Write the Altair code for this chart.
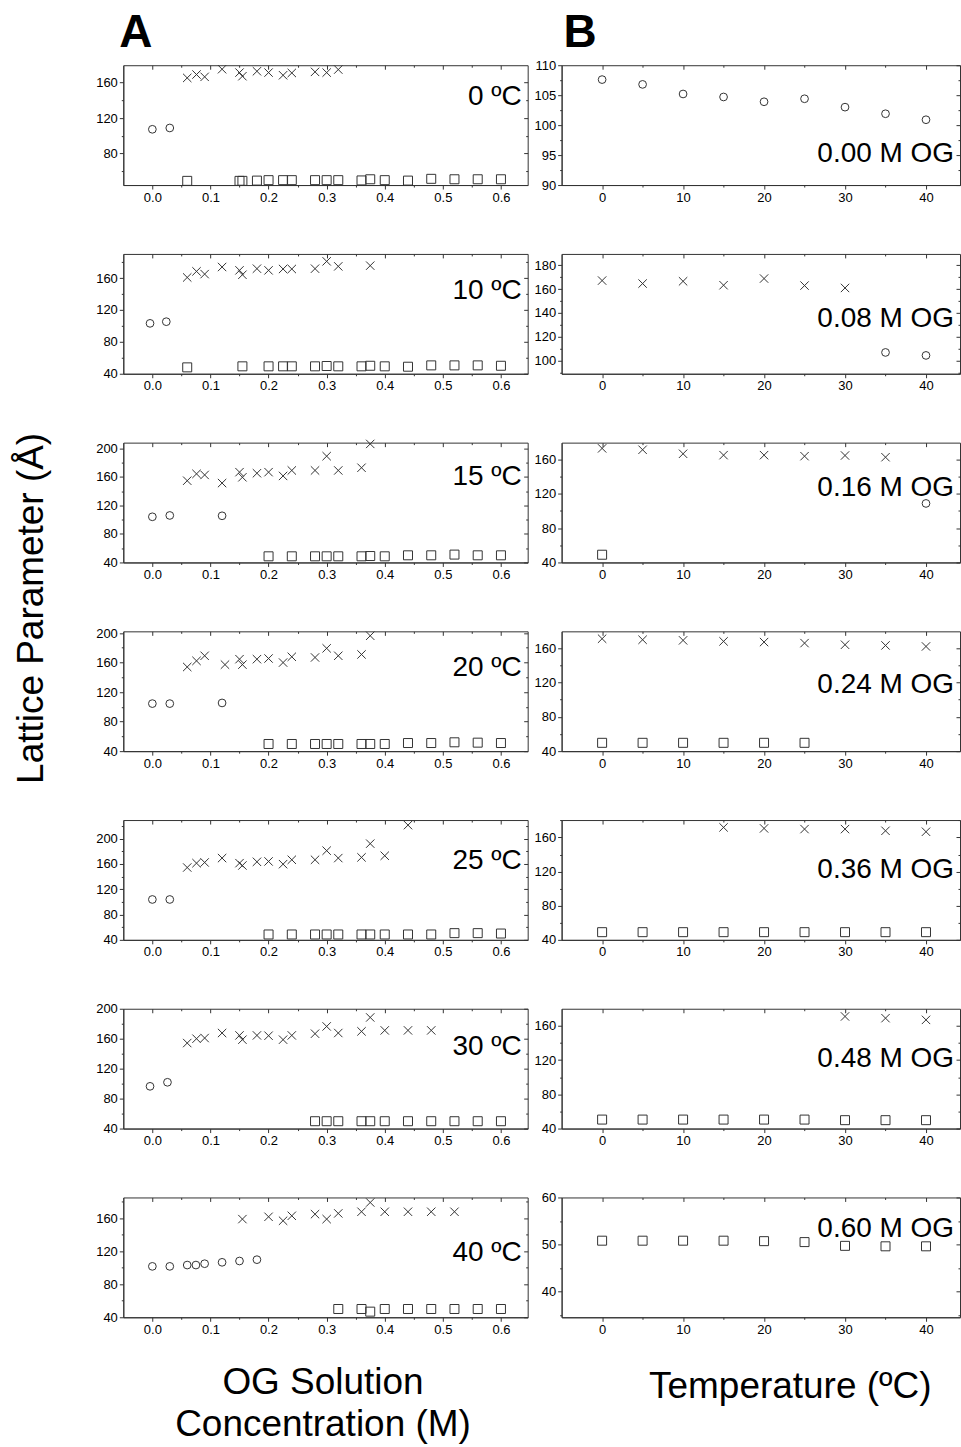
import altair as alt
import pandas as pd

FONT = "Liberation Sans"
INK = "#333333"
XPATH = "M-1,-1L1,1M-1,1L1,-1"
KINDS = ["circle", "cross", "square"]

# ---------------- Column A: lattice parameter vs OG concentration ----------------
A_LABELS = ["0 ºC", "10 ºC", "15 ºC", "20 ºC", "25 ºC", "30 ºC", "40 ºC"]
A_XTICKS = [0.0, 0.1, 0.2, 0.3, 0.4, 0.5, 0.6]
A_XDOM = [-0.05, 0.646]

# 0 ºC
A0_circ_x = [0.0, 0.03]
A0_circ_y = [107.3, 108.8]
A0_cross_x = [0.06, 0.076, 0.09, 0.12, 0.15, 0.155, 0.18, 0.20, 0.225, 0.24, 0.28, 0.30, 0.32]
A0_cross_y = [165.2, 169.0, 166.4, 175.0, 171.2, 167.1, 172.7, 171.2, 168.2, 170.8, 172.0, 171.2, 174.6]
A0_sq_x = [0.06, 0.15, 0.155, 0.18, 0.20, 0.225, 0.24, 0.28, 0.30, 0.32, 0.36, 0.375, 0.40, 0.44, 0.48, 0.52, 0.56, 0.60]
A0_sq_y = [49.2, 49.2, 49.2, 49.5, 50.0, 50.0, 50.0, 50.0, 50.0, 50.0, 49.7, 51.0, 50.0, 49.5, 51.5, 51.0, 51.0, 51.0]

# 10 ºC
A10_circ_x = [-0.004, 0.024]
A10_circ_y = [103.2, 105.3]
A10_cross_x = [0.06, 0.076, 0.09, 0.12, 0.15, 0.155, 0.18, 0.20, 0.225, 0.24, 0.28, 0.30, 0.32, 0.375]
A10_cross_y = [160.8, 168.4, 165.0, 173.9, 169.7, 164.2, 171.8, 169.7, 171.4, 171.4, 171.8, 181.0, 174.7, 175.6]
A10_sq_x = [0.06, 0.155, 0.20, 0.225, 0.24, 0.28, 0.30, 0.32, 0.36, 0.375, 0.40, 0.44, 0.48, 0.52, 0.56, 0.60]
A10_sq_y = [48.0, 49.3, 49.3, 49.3, 49.3, 49.3, 49.7, 49.3, 49.3, 50.0, 49.3, 48.8, 50.5, 50.5, 50.5, 50.0]

# 15 ºC
A15_circ_x = [0.0, 0.03, 0.12]
A15_circ_y = [104.0, 105.9, 105.4]
A15_cross_x = [0.06, 0.076, 0.09, 0.12, 0.15, 0.155, 0.18, 0.20, 0.225, 0.24, 0.28, 0.30, 0.32, 0.36, 0.375]
A15_cross_y = [154.6, 164.2, 162.7, 151.3, 166.6, 159.4, 165.1, 166.6, 161.3, 169.0, 169.0, 189.0, 169.0, 172.8, 206.2]
A15_sq_x = [0.20, 0.24, 0.28, 0.30, 0.32, 0.36, 0.375, 0.40, 0.44, 0.48, 0.52, 0.56, 0.60]
A15_sq_y = [48.6, 48.6, 48.6, 48.6, 48.6, 48.6, 49.0, 48.6, 50.0, 50.0, 51.0, 50.0, 50.0]

# 20 ºC
A20_circ_x = [0.0, 0.03, 0.12]
A20_circ_y = [104.4, 104.4, 105.3]
A20_cross_x = [0.06, 0.076, 0.09, 0.125, 0.15, 0.155, 0.18, 0.20, 0.225, 0.24, 0.28, 0.30, 0.32, 0.36, 0.375]
A20_cross_y = [154.0, 162.3, 169.2, 157.2, 164.6, 157.2, 164.6, 165.5, 160.0, 167.8, 166.9, 179.3, 169.2, 171.0, 196.3]
A20_sq_x = [0.20, 0.24, 0.28, 0.30, 0.32, 0.36, 0.375, 0.40, 0.44, 0.48, 0.52, 0.56, 0.60]
A20_sq_y = [49.7, 49.7, 49.7, 49.7, 49.7, 49.7, 49.7, 49.7, 51.0, 51.0, 52.0, 51.5, 51.0]

# 25 ºC
A25_circ_x = [0.0, 0.03]
A25_circ_y = [103.8, 103.8]
A25_cross_x = [0.06, 0.076, 0.09, 0.12, 0.15, 0.155, 0.18, 0.20, 0.225, 0.24, 0.28, 0.30, 0.32, 0.36, 0.375, 0.40, 0.44]
A25_cross_y = [154.3, 161.2, 162.3, 169.2, 161.2, 157.5, 163.3, 163.9, 159.6, 166.5, 166.5, 180.9, 169.2, 170.3, 192.0, 172.9, 221.3]
A25_sq_x = [0.20, 0.24, 0.28, 0.30, 0.32, 0.36, 0.375, 0.40, 0.44, 0.48, 0.52, 0.56, 0.60]
A25_sq_y = [48.5, 48.5, 48.5, 48.5, 48.5, 48.5, 48.5, 48.5, 48.5, 48.5, 50.6, 50.6, 50.0]

# 30 ºC
A30_circ_x = [-0.004, 0.026]
A30_circ_y = [96.4, 101.8]
A30_cross_x = [0.06, 0.076, 0.09, 0.12, 0.15, 0.155, 0.18, 0.20, 0.225, 0.24, 0.28, 0.30, 0.32, 0.36, 0.375, 0.40, 0.44, 0.48]
A30_cross_y = [154.2, 160.0, 160.9, 167.6, 164.4, 158.7, 164.4, 164.0, 158.7, 164.4, 166.7, 176.4, 167.6, 169.8, 188.4, 171.1, 171.1, 171.1]
A30_sq_x = [0.28, 0.30, 0.32, 0.36, 0.375, 0.40, 0.44, 0.48, 0.52, 0.56, 0.60]
A30_sq_y = [49.8, 49.8, 49.8, 49.8, 49.8, 49.8, 49.8, 49.8, 49.8, 49.8, 49.8]

# 40 ºC
A40_circ_x = [0.0, 0.03, 0.06, 0.075, 0.09, 0.12, 0.15, 0.18]
A40_circ_y = [101.6, 101.6, 103.2, 103.2, 104.8, 106.5, 108.1, 109.7]
A40_cross_x = [0.155, 0.20, 0.225, 0.24, 0.28, 0.30, 0.32, 0.36, 0.375, 0.40, 0.44, 0.48, 0.52]
A40_cross_y = [158.8, 161.6, 156.8, 162.8, 164.8, 158.8, 165.7, 167.7, 178.9, 167.7, 167.7, 167.7, 167.7]
A40_sq_x = [0.32, 0.36, 0.375, 0.40, 0.44, 0.48, 0.52, 0.56, 0.60]
A40_sq_y = [50.0, 50.0, 46.8, 50.0, 50.0, 50.0, 50.0, 50.0, 50.0]

A_YDOMS = [[44.5, 179.5], [40, 190.3], [40, 208], [40, 202.3], [40, 229.3], [40, 200], [40, 185]]
A_YTICKS = [[80, 120, 160], [40, 80, 120, 160], [40, 80, 120, 160, 200], [40, 80, 120, 160, 200],
            [40, 80, 120, 160, 200], [40, 80, 120, 160, 200], [40, 80, 120, 160]]
A_YSTEP = [40, 40, 40, 40, 40, 40, 40]

# ---------------- Column B: lattice parameter vs temperature ----------------
B_LABELS = ["0.00 M OG", "0.08 M OG", "0.16 M OG", "0.24 M OG", "0.36 M OG", "0.48 M OG", "0.60 M OG"]
B_XTICKS = [0, 10, 20, 30, 40]
B_XDOM = [-5, 44.2]
T_ALL = [0, 5, 10, 15, 20, 25, 30, 35, 40]

B000_circ_y = [107.6, 106.8, 105.2, 104.7, 103.9, 104.4, 103.0, 101.9, 100.9]
B008_cross_x = [0, 5, 10, 15, 20, 25, 30]
B008_cross_y = [167.1, 164.6, 166.5, 163.2, 168.8, 162.9, 160.9]
B008_circ_x = [35, 40]
B008_circ_y = [106.7, 104.2]
B016_cross_x = [0, 5, 10, 15, 20, 25, 30, 35]
B016_cross_y = [173.0, 171.4, 166.7, 165.1, 165.1, 163.9, 164.7, 162.7]
B016_circ_x = [40]
B016_circ_y = [108.8]
B016_sq_x = [0]
B016_sq_y = [49.0]
B024_cross_y = [170.9, 169.7, 169.0, 167.8, 167.0, 165.8, 163.9, 163.1, 161.9]
B024_sq_x = [0, 5, 10, 15, 20, 25]
B024_sq_y = [49.7, 49.7, 49.7, 49.7, 49.7, 49.7]
B036_cross_x = [15, 20, 25, 30, 35, 40]
B036_cross_y = [171.8, 170.6, 169.8, 169.8, 167.8, 166.7]
B036_sq_y = [49.0, 49.0, 49.0, 49.0, 49.0, 49.0, 49.0, 49.0, 49.0]
B048_cross_x = [30, 35, 40]
B048_cross_y = [171.0, 169.0, 167.0]
B048_sq_y = [50.5, 50.5, 50.5, 50.5, 50.5, 50.5, 49.8, 49.8, 49.8]
B060_sq_y = [50.8, 50.8, 50.8, 50.8, 50.7, 50.5, 49.7, 49.6, 49.6]

B_YDOMS = [[90, 110], [88.8, 189.5], [40, 179.7], [40, 179.5], [40, 180.4], [40, 180], [34.5, 60]]
B_YTICKS = [[90, 95, 100, 105, 110], [100, 120, 140, 160, 180], [40, 80, 120, 160], [40, 80, 120, 160],
            [40, 80, 120, 160], [40, 80, 120, 160], [40, 50, 60]]
B_YSTEP = [5, 20, 40, 40, 40, 40, 10]

# label baselines inside each panel (px from panel top)
A_LABEL_Y = [40, 45.6, 42.3, 45, 49.3, 46, 64]
B_LABEL_Y = [96.7, 73.3, 53.3, 61.7, 58.4, 58, 40]

A_W, B_W, H = 405, 399, 120
MAJOR, MINOR = 4, 2


def frame(circ_x, circ_y, cross_x, cross_y, sq_x, sq_y):
    rows = []
    for kind, xs, ys in (("circle", circ_x, circ_y), ("cross", cross_x, cross_y), ("square", sq_x, sq_y)):
        rows += [{"x": a, "y": b, "kind": kind} for a, b in zip(xs, ys)]
    return pd.DataFrame(rows, columns=["x", "y", "kind"])


def with_minor(majors, step, dom):
    cand = [majors[0] - step / 2] + [m + step / 2 for m in majors]
    minors = [round(c, 4) for c in cand if dom[0] < c < dom[1]]
    return sorted(majors + minors)


ONE = pd.DataFrame({"k": [0]})


def text(label, x, y, size=28, align="right", baseline="alphabetic", weight="normal", angle=0):
    kw = dict(align=align, baseline=baseline, fontSize=size, font=FONT, color="black", fontWeight=weight)
    if angle:
        kw["angle"] = angle
    return alt.Chart(ONE).mark_text(**kw).encode(x=alt.value(x), y=alt.value(y), text=alt.value(label))


def panel(df, xdom, xticks, xmajor_test, xfmt, ydom, yticks, ystep, width, label, label_y, sizes, extras=()):
    xs = alt.Scale(domain=xdom, nice=False, zero=False)
    ys = alt.Scale(domain=ydom, nice=False, zero=False)
    xstep = xticks[1] - xticks[0]
    xvals = with_minor(xticks, xstep, xdom)
    yvals = with_minor(yticks, ystep, ydom)
    ymajor_test = f"abs(datum.value % {ystep}) < 1e-6"
    xsize = {"condition": {"test": xmajor_test, "value": MAJOR}, "value": MINOR}
    ysize = {"condition": {"test": ymajor_test, "value": MAJOR}, "value": MINOR}
    xlab = f"({xmajor_test}) ? datum.label : ''"
    ylab = f"({ymajor_test}) ? datum.label : ''"
    pts = alt.Chart(df).mark_point(filled=False, strokeWidth=1, opacity=1).encode(
        x=alt.X("x:Q", scale=xs, axis=alt.Axis(values=xvals, format=xfmt, labelExpr=xlab, title=None, grid=False,
                                               tickSize=xsize, labelPadding=2, labelFontSize=13)),
        y=alt.Y("y:Q", scale=ys, axis=alt.Axis(values=yvals, format="d", labelExpr=ylab, title=None, grid=False,
                                               tickSize=ysize, labelPadding=2, labelFontSize=13)),
        shape=alt.Shape("kind:N", scale=alt.Scale(domain=KINDS, range=["circle", XPATH, "square"]), legend=None),
        size=alt.Size("kind:N", scale=alt.Scale(domain=KINDS, range=sizes), legend=None),
        color=alt.value(INK),
    )
    # mirrored ticks on the top and right edges, pointing into the plot
    mirror = alt.Chart(df).mark_point(opacity=0).encode(
        x=alt.X("x:Q", scale=xs, axis=alt.Axis(orient="bottom", offset=-H, values=xvals, labels=False, domain=False,
                                               tickSize=xsize, title=None, grid=False)),
        y=alt.Y("y:Q", scale=ys, axis=alt.Axis(orient="left", offset=-width, values=yvals, labels=False, domain=False,
                                               tickSize=ysize, title=None, grid=False)),
    )
    lab = text(label, width - 6, label_y)
    return alt.layer(pts, mirror, lab, *extras).resolve_scale(x="independent", y="independent").properties(
        width=width, height=H)


A_frames = [
    frame(A0_circ_x, A0_circ_y, A0_cross_x, A0_cross_y, A0_sq_x, A0_sq_y),
    frame(A10_circ_x, A10_circ_y, A10_cross_x, A10_cross_y, A10_sq_x, A10_sq_y),
    frame(A15_circ_x, A15_circ_y, A15_cross_x, A15_cross_y, A15_sq_x, A15_sq_y),
    frame(A20_circ_x, A20_circ_y, A20_cross_x, A20_cross_y, A20_sq_x, A20_sq_y),
    frame(A25_circ_x, A25_circ_y, A25_cross_x, A25_cross_y, A25_sq_x, A25_sq_y),
    frame(A30_circ_x, A30_circ_y, A30_cross_x, A30_cross_y, A30_sq_x, A30_sq_y),
    frame(A40_circ_x, A40_circ_y, A40_cross_x, A40_cross_y, A40_sq_x, A40_sq_y),
]
B_frames = [
    frame(T_ALL, B000_circ_y, [], [], [], []),
    frame(B008_circ_x, B008_circ_y, B008_cross_x, B008_cross_y, [], []),
    frame(B016_circ_x, B016_circ_y, B016_cross_x, B016_cross_y, B016_sq_x, B016_sq_y),
    frame([], [], T_ALL, B024_cross_y, B024_sq_x, B024_sq_y),
    frame([], [], B036_cross_x, B036_cross_y, T_ALL, B036_sq_y),
    frame([], [], B048_cross_x, B048_cross_y, T_ALL, B048_sq_y),
    frame([], [], [], [], T_ALL, B060_sq_y),
]

A_XTEST = "round(datum.value * 100) % 10 == 0"
B_XTEST = "datum.value % 10 == 0"

cells = []
for i in range(7):
    a_extra = []
    b_extra = []
    if i == 0:
        a_extra = [text("A", -4, -18, size=46, align="left", weight="bold"),
                   text("Lattice Parameter (Å)", -91, 544, size=37, align="center", baseline="middle", angle=270)]
        b_extra = [text("B", 2, -18, size=46, align="left", weight="bold")]
    if i == 6:
        a_extra = [text("OG Solution", 200, 186, size=37, align="center", baseline="middle"),
                   text("Concentration (M)", 200, 228, size=37, align="center", baseline="middle")]
        b_extra = [text("Temperature (ºC)", 229, 190, size=37, align="center", baseline="middle")]
    cells.append(panel(A_frames[i], A_XDOM, A_XTICKS, A_XTEST, ".1f", A_YDOMS[i], A_YTICKS[i], A_YSTEP[i], A_W,
                       A_LABELS[i], A_LABEL_Y[i], [60, 81, 34], a_extra))
    cells.append(panel(B_frames[i], B_XDOM, B_XTICKS, B_XTEST, "d", B_YDOMS[i], B_YTICKS[i], B_YSTEP[i], B_W,
                       B_LABELS[i], B_LABEL_Y[i], [45, 64, 30], b_extra))

chart = alt.concat(*cells, columns=2, spacing={"row": 69, "column": 34}, bounds="flush").properties(
    padding={"left": 12.5, "top": 8.2, "right": 0, "bottom": 2},
    background="white",
).configure_view(stroke=INK, strokeWidth=1).configure_axis(
    labelFont=FONT, labelFontSize=13, labelColor="black", domainColor=INK, tickColor=INK,
    domainWidth=1, tickWidth=1,
)

chart.save("out.html", embed_options={"renderer": "svg", "actions": False})
